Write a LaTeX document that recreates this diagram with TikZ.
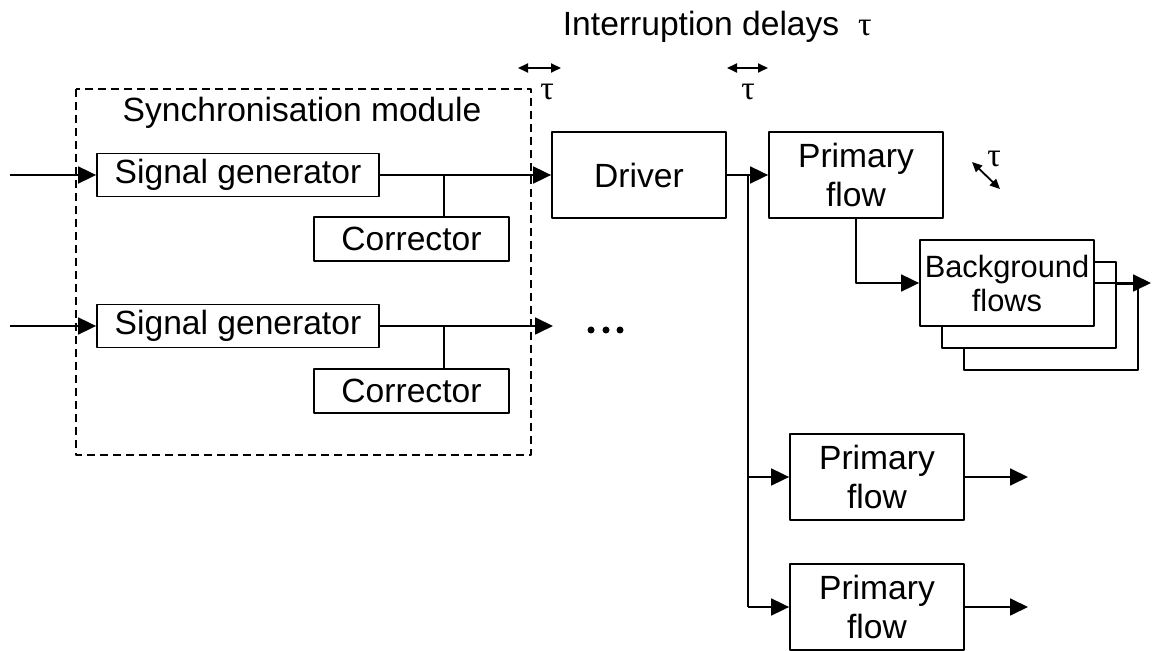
\documentclass[tikz,border=0pt]{standalone}
\usepackage{fontspec}
\setmainfont{Liberation Sans}
\newfontfamily\taufont{Liberation Serif}
\usetikzlibrary{arrows.meta}
\newcommand{\tsym}{{\taufont τ}}
\begin{document}
\begin{tikzpicture}[x=0.5pt, y=-0.5pt, line width=0.9pt, line join=round,
		font=\fontsize{16.8}{19.5}\selectfont,
		>={Triangle[length=9pt,width=8.5pt]},
		blk/.style={draw, fill=white, inner sep=0pt, align=center},
		wide/.style={blk, minimum width=141pt, minimum height=21.5pt},
		corr/.style={blk, minimum width=97.5pt, minimum height=22pt},
		flow/.style={blk, minimum width=87pt, minimum height=43pt},
		dly/.style={{Triangle[length=5pt,width=4.5pt]}-{Triangle[length=5pt,width=4.5pt]}}]
	\useasboundingbox (0,0) rectangle (1152,651);
	% synchronisation module
	\draw[dash pattern=on 4pt off 2.5pt] (76,89) rectangle (531,455);
	\node[anchor=base] (sync) at (302,122) {Synchronisation module};
	\node[wide] (sg1) at (238,175) {Signal generator};
	\node[corr] (cor1) at (411.5,239) {Corrector};
	\node[wide] (sg2) at (238,326) {Signal generator};
	\node[corr] (cor2) at (411.5,391) {Corrector};
	\coordinate (in1) at (10,175);
	\coordinate (in2) at (10,326);
	\coordinate (j1) at (444,175);
	\coordinate (j2) at (444,326);
	\coordinate (o2) at (553,326);
	% driver and flows
	\node[flow] (drv) at (639,175) {Driver};
	\node[flow] (pf1) at (856,175) {Primary\\flow};
	\node[flow] (bg3) at (1051,327) {};
	\node[flow] (bg2) at (1029,305) {};
	\node[flow, font=\fontsize{15.4}{17}\selectfont] (bg) at (1007,283) {Background\\flows};
	\node[flow] (pf2) at (877,477) {Primary\\flow};
	\node[flow] (pf3) at (877,607) {Primary\\flow};
	\coordinate (br) at (748,175);
	\coordinate (bout) at (1151,283);
	\coordinate (o3) at (1028,477);
	\coordinate (o4) at (1028,607);
	% connectors
	\draw[->] (in1) -- (sg1);
	\draw[->] (in2) -- (sg2);
	\draw[->] (sg1) -- (drv);
	\draw[->] (sg2) -- (o2);
	\draw (j1) -- (j1 |- cor1.north);
	\draw (j2) -- (j2 |- cor2.north);
	\draw[->] (drv) -- (pf1);
	\draw (br) -- (br |- pf3);
	\draw[->] (br |- pf2) -- (pf2);
	\draw[->] (br |- pf3) -- (pf3);
	\draw[->] (pf1.south) |- (bg.west);
	\draw[->] (bg.east) -- (bout);
	\draw[->] (pf2) -- (o3);
	\draw[->] (pf3) -- (o4);
	\foreach \x in {591,606,620} \fill (\x,330) circle (3.5);
	% delays
	\node[anchor=base west, inner sep=0pt] (ttl) at (562,36) {Interruption delays\ \ \tsym};
	\coordinate (d1a) at (518,68); \coordinate (d1b) at (561,68);
	\coordinate (d2a) at (727,68); \coordinate (d2b) at (768,68);
	\coordinate (d3a) at (972,162); \coordinate (d3b) at (1000,189);
	\draw[dly] (d1a) -- (d1b);
	\draw[dly] (d2a) -- (d2b);
	\draw[dly] (d3a) -- (d3b);
	\node[anchor=base] (t1) at (547,100) {\tsym};
	\node[anchor=base] (t2) at (748,100) {\tsym};
	\node[anchor=base] (t3) at (994,167) {\tsym};
\end{tikzpicture}
\end{document}
